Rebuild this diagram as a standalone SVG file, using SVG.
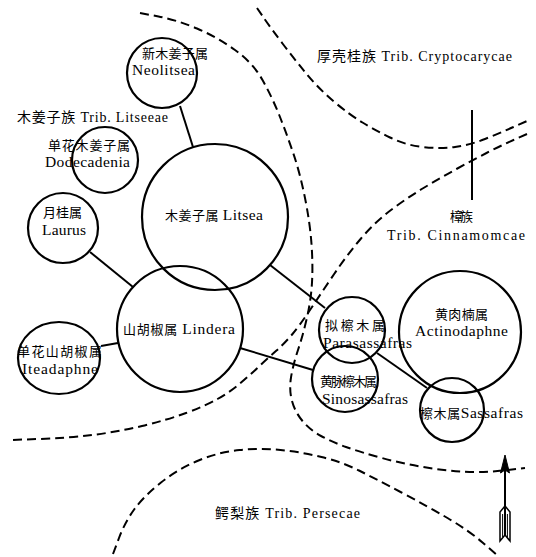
<svg xmlns="http://www.w3.org/2000/svg" width="536" height="557" viewBox="0 0 536 557">
<style>
.n{fill:none;stroke:#000;stroke-width:2.2}
.c{fill:none;stroke:#000;stroke-width:2}
.d{fill:none;stroke:#000;stroke-width:2;stroke-dasharray:9 5}
text{font-family:"Liberation Serif","Noto Sans CJK SC",serif;font-size:13px;fill:#000}
.l{font-size:15.5px}
.t{font-size:14px}
</style>
<rect width="536" height="557" fill="#fff"/>
<g id="boundaries">
<path class="d" d="M140,13 L158.5,16.5 Q177,20 197,28.5 Q217,37 235,50 Q253,63 262.5,80 Q272,97 279,114.5 Q286,132 293,152.5 Q300,173 305,198 Q310,223 311.5,244 Q313,265 312,282.5 Q311,300 307,317.5 Q303,335 298,350 Q293,365 291,377.5 Q289,390 292,401 Q295,412 302.5,421 Q310,430 321,436 Q332,442 346,447 Q360,452 380,457.5 Q400,463 420,466.5 Q440,470 460,471.5 Q480,473 502.5,470.5 L525,468"/>
<path class="d" d="M527,134 L513.5,140 Q500,146 486.5,153 Q473,160 456.5,169 Q440,178 423.5,188 Q407,198 391,210 Q375,222 361,238.5 Q347,255 334.5,273.5 Q322,292 311,308.5 Q300,325 292.5,334 Q285,343 276.5,350.5 Q268,358 259,366.5 Q250,375 240,383.5 Q230,392 217.5,399 Q205,406 186,413 Q167,420 142,426 Q117,432 92,435 Q67,438 38.5,439 L10,440"/>
<path class="d" d="M257,8 L263.5,17.5 Q270,27 282.5,43.5 Q295,60 307.5,75 Q320,90 335,102.5 Q350,115 362.5,122.5 Q375,130 390,137.5 Q405,145 422.5,147 Q440,149 455,147 Q470,145 485,139 Q500,133 513.5,127 L527,121"/>
<path class="d" d="M113,554 L119,538 Q125,522 134.5,509 Q144,496 161,482.5 Q178,469 198.5,460.5 Q219,452 239.5,450 Q260,448 280.5,450 Q301,452 321.5,457 Q342,462 359,470.5 Q376,479 401.5,492.5 Q427,506 447.5,518 Q468,530 482.5,542.5 L497,555"/>
<line class="c" x1="472" y1="110" x2="472" y2="200"/>
</g>
<g id="labels">
<text class="t" x="17" y="122" textLength="151" lengthAdjust="spacing">木姜子族 Trib. Litseeae</text>
<text class="t" x="317" y="61" textLength="195" lengthAdjust="spacing">厚壳桂族 Trib. Cryptocarycae</text>
<text x="450" y="221" textLength="23" lengthAdjust="spacing">樟族</text>
<text class="t" x="387" y="240" textLength="138" lengthAdjust="spacing">Trib. Cinnamomcae</text>
<text class="t" x="215" y="518" textLength="145" lengthAdjust="spacing">鳄梨族 Trib. Persecae</text>
</g>
<g id="connectors">
<line class="c" x1="180" y1="106" x2="193" y2="147"/>
<line class="c" x1="90" y1="252" x2="133" y2="287"/>
<line class="c" x1="101" y1="346" x2="118" y2="343"/>
<line class="c" x1="270" y1="265" x2="325" y2="308"/>
<line class="c" x1="240" y1="348" x2="313" y2="370"/>
<line class="c" x1="377" y1="353" x2="427" y2="388"/>
</g>
<g id="neolitsea">
<circle class="n" cx="162" cy="73" r="35"/>
<text x="142" y="58" textLength="66" lengthAdjust="spacing">新木姜子属</text>
<text class="l" x="132" y="75" textLength="63" lengthAdjust="spacing">Neolitsea</text>
</g>
<g id="dodecadenia">
<circle class="n" cx="105" cy="160" r="33"/>
<text x="48" y="150" textLength="82" lengthAdjust="spacing">单花木姜子属</text>
<text class="l" x="45" y="167" textLength="85" lengthAdjust="spacing">Dodecadenia</text>
</g>
<g id="litsea">
<circle class="n" cx="215" cy="217" r="73"/>
<text x="165" y="220" textLength="98" lengthAdjust="spacing">木姜子属 <tspan class="l">Litsea</tspan></text>
</g>
<g id="laurus">
<circle class="n" cx="63" cy="228" r="35"/>
<text x="43" y="217" textLength="39" lengthAdjust="spacing">月桂属</text>
<text class="l" x="42" y="235" textLength="44" lengthAdjust="spacing">Laurus</text>
</g>
<g id="lindera">
<circle class="n" cx="180" cy="329" r="63"/>
<text x="123" y="334" textLength="112" lengthAdjust="spacing">山胡椒属 <tspan class="l">Lindera</tspan></text>
</g>
<g id="iteadaphne">
<ellipse class="n" cx="59" cy="358" rx="41" ry="36"/>
<text x="17" y="356" textLength="85" lengthAdjust="spacing">单花山胡椒属</text>
<text class="l" x="22" y="374" textLength="76" lengthAdjust="spacing">Iteadaphne</text>
</g>
<g id="parasassafras">
<circle class="n" cx="352" cy="330" r="33"/>
<text x="325" y="330" textLength="60" lengthAdjust="spacing">拟檫木属</text>
<text class="l" x="323" y="348" textLength="89" lengthAdjust="spacing">Parasassafras</text>
</g>
<g id="actinodaphne">
<circle class="n" cx="460" cy="332" r="61"/>
<text x="435" y="319" textLength="53" lengthAdjust="spacing">黄肉楠属</text>
<text class="l" x="415" y="336" textLength="93" lengthAdjust="spacing">Actinodaphne</text>
</g>
<g id="sinosassafras">
<circle class="n" cx="345" cy="379" r="33"/>
<text x="320" y="386" textLength="57" lengthAdjust="spacing">黄脉檫木属</text>
<text class="l" x="322" y="404" textLength="86" lengthAdjust="spacing">Sinosassafras</text>
</g>
<g id="sassafras">
<circle class="n" cx="452" cy="410" r="32"/>
<text x="420" y="418" textLength="103" lengthAdjust="spacing">檫木属<tspan class="l">Sassafras</tspan></text>
</g>
<g id="north-arrow">
<line class="c" x1="505" y1="468" x2="505" y2="536"/>
<polygon points="505,455 500.5,473 505,470 509.5,473" fill="#000" stroke="#000" stroke-width="1"/>
<path d="M505,506 L500,512 L500,541 L505,535 L510,541 L510,512 Z" fill="none" stroke="#000" stroke-width="1.5"/>
<line x1="502.6" y1="514" x2="502.6" y2="537" stroke="#000" stroke-width="1"/>
<line x1="507.4" y1="514" x2="507.4" y2="537" stroke="#000" stroke-width="1"/>
</g>
</svg>
